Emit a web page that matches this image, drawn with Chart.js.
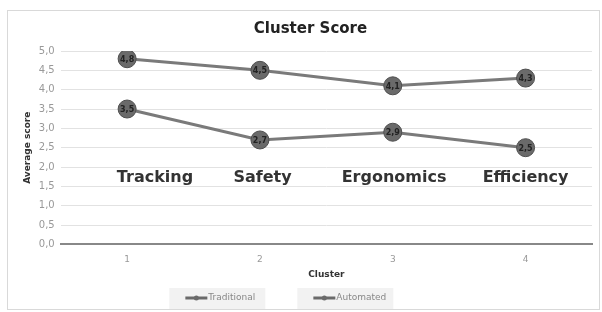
<!DOCTYPE html>
<html>
<head>
<meta charset="utf-8">
<script src="https://cdn.jsdelivr.net/npm/chart.js@4"></script>
<style>
  body { margin: 0; background: #fff; }
  #wrap { position: absolute; left: 7px; top: 10px; width: 593px; height: 300px; border: 1px solid #d9d9d9; box-sizing: border-box; }
  canvas { position: absolute; left: 0; top: 0; }
</style>
</head>
<body>
<div id="wrap"></div>
<canvas id="mainChart" width="602" height="312"></canvas>
<script>
const categories = ['1', '2', '3', '4'];
const clusterNames = ['Tracking', 'Safety', 'Ergonomics', 'Efficiency'];
const traditional = [4.8, 4.5, 4.1, 4.3];
const automated = [3.5, 2.7, 2.9, 2.5];
const yTicks = [0, 0.5, 1, 1.5, 2, 2.5, 3, 3.5, 4, 4.5, 5];

const fmt = v => v.toFixed(1).replace('.', ',');

// point values written inside the markers
const pointLabels = {
    id: 'pointLabels',
    afterDatasetsDraw(chart) {
        const c = chart.ctx;
        c.save();
        c.font = 'bold 8px "DejaVu Sans"';
        c.fillStyle = '#222';
        c.textAlign = 'center';
        c.textBaseline = 'middle';
        chart.data.datasets.forEach((ds, i) => {
            chart.getDatasetMeta(i).data.forEach((pt, j) => {
                c.fillText(fmt(ds.data[j]), pt.x, pt.y + 1);
            });
        });
        c.restore();
    }
};

// big cluster names sitting over the plot
const clusterText = {
    id: 'clusterText',
    afterDatasetsDraw(chart) {
        const c = chart.ctx;
        const xs = chart.scales.x, ys = chart.scales.y;
        c.save();
        c.font = 'bold 16px "DejaVu Sans"';
        c.fillStyle = '#333';
        c.textAlign = 'center';
        c.textBaseline = 'middle';
        const shift = [0.21, 0.02, 0.01, 0.0];
        clusterNames.forEach((name, i) => {
            c.fillText(name, xs.getPixelForValue(i + shift[i]), ys.getPixelForValue(1.72));
        });
        c.restore();
    }
};

// legend drawn by hand: grey boxes, a line with a dot, grey text
const bottomLegend = {
    id: 'bottomLegend',
    afterDraw(chart) {
        const c = chart.ctx;
        const mid = (chart.chartArea.left + chart.chartArea.right) / 2;
        const y = 298;
        const starts = [mid - 141, mid - 13];
        c.save();
        c.font = '9px "DejaVu Sans"';
        c.textBaseline = 'middle';
        chart.data.datasets.forEach((ds, i) => {
            const x0 = starts[i];
            c.fillStyle = '#f2f2f2';
            c.fillRect(x0 - 16, y - 10, 96, 21);
            c.strokeStyle = '#6a6a6a';
            c.lineWidth = 3;
            c.beginPath();
            c.moveTo(x0, y);
            c.lineTo(x0 + 22, y);
            c.stroke();
            c.fillStyle = '#6a6a6a';
            c.beginPath();
            c.arc(x0 + 11, y, 2.5, 0, Math.PI * 2);
            c.fill();
            c.fillStyle = '#888';
            c.fillText(ds.label, x0 + 23, y);
        });
        c.restore();
    }
};

const ctx = document.getElementById('mainChart');
new Chart(ctx, {
    type: 'line',
    data: {
        labels: categories,
        datasets: [
            {
                label: 'Traditional',
                data: traditional,
                borderColor: '#7a7a7a',
                borderWidth: 3,
                pointRadius: 9,
                pointBorderWidth: 1,
                pointBorderColor: '#4e4e4e',
                pointBackgroundColor: '#6a6a6a'
            },
            {
                label: 'Automated',
                data: automated,
                borderColor: '#7a7a7a',
                borderWidth: 3,
                pointRadius: 9,
                pointBorderWidth: 1,
                pointBorderColor: '#4e4e4e',
                pointBackgroundColor: '#6a6a6a'
            }
        ]
    },
    options: {
        responsive: false,
        animation: false,
        layout: { padding: { left: 22, right: 3, top: 15, bottom: 32 } },
        plugins: {
            title: {
                display: true,
                text: 'Cluster Score',
                color: '#222',
                font: { family: 'DejaVu Sans', size: 15, weight: 'bold' },
                padding: { top: 5, bottom: 13 }
            },
            legend: { display: false },
            tooltip: { enabled: false }
        },
        scales: {
            x: {
                offset: true,
                grid: { display: false },
                border: { color: '#888', width: 2 },
                ticks: { color: '#999', padding: 2, font: { family: 'DejaVu Sans', size: 9 } },
                title: {
                    display: true,
                    text: 'Cluster',
                    color: '#333',
                    font: { family: 'DejaVu Sans', size: 9, weight: 'bold' },
                    padding: { top: 2, bottom: 0 }
                }
            },
            y: {
                min: 0,
                max: 5,
                afterBuildTicks: axis => { axis.ticks = yTicks.map(v => ({ value: v })); },
                grid: { color: '#e2e2e2', drawTicks: false },
                border: { display: false },
                ticks: {
                    color: '#999',
                    padding: 6,
                    font: { family: 'DejaVu Sans', size: 10 },
                    callback: v => fmt(v)
                },
                title: {
                    display: true,
                    text: 'Average score',
                    color: '#333',
                    padding: 0,
                    font: { family: 'DejaVu Sans', size: 9, weight: 'bold' }
                }
            }
        }
    },
    plugins: [pointLabels, clusterText, bottomLegend]
});
</script>
</body>
</html>
